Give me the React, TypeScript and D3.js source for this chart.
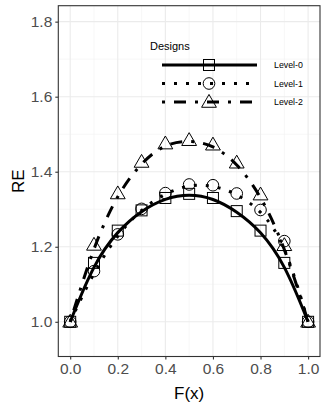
import React, { useRef, useEffect } from 'react';
import * as d3 from 'd3';

const fx = [0, 0.1, 0.2, 0.3, 0.4, 0.5, 0.6, 0.7, 0.8, 0.9, 1.0];
const level0 = [1.0, 1.157, 1.243, 1.297, 1.33, 1.341, 1.33, 1.295, 1.243, 1.157, 1.0];
const level1 = [1.0, 1.135, 1.233, 1.301, 1.343, 1.366, 1.364, 1.342, 1.298, 1.215, 1.0];
const level2 = [1.0, 1.205, 1.342, 1.426, 1.475, 1.484, 1.472, 1.424, 1.339, 1.204, 1.0];
const seriesNames = ['Level-0', 'Level-1', 'Level-2'];
const xTicks = [0, 0.2, 0.4, 0.6, 0.8, 1.0];
const yTicks = [1.0, 1.2, 1.4, 1.6, 1.8];

const W = 327;
const H = 409;
const font = 'Liberation Sans, Arial, sans-serif';

const App = () => {
  const svgRef = useRef<SVGSVGElement>(null);

  useEffect(() => {
    const svg = d3.select(svgRef.current);
    svg.selectAll('*').remove();

    const left = 58.3, right = 320, top = 5.7, bottom = 356.5;
    const x = d3.scaleLinear().domain([-0.05, 1.05]).range([left, right]);
    const y = d3.scaleLinear().domain([0.9075, 1.8425]).range([bottom, top]);

    svg.append('rect').attr('width', W).attr('height', H).attr('fill', 'white');

    // grid
    const g = svg.append('g');
    const minorX = d3.range(0.1, 1.0, 0.2);
    const minorY = [0.9, 1.1, 1.3, 1.5, 1.7];
    minorX.forEach((v) => {
      g.append('line').attr('x1', x(v)).attr('x2', x(v)).attr('y1', top).attr('y2', bottom)
        .attr('stroke', '#f2f2f2').attr('stroke-width', 0.6);
    });
    minorY.forEach((v) => {
      if (y(v) > bottom) return;
      g.append('line').attr('y1', y(v)).attr('y2', y(v)).attr('x1', left).attr('x2', right)
        .attr('stroke', '#f2f2f2').attr('stroke-width', 0.6);
    });
    xTicks.forEach((v) => {
      g.append('line').attr('x1', x(v)).attr('x2', x(v)).attr('y1', top).attr('y2', bottom)
        .attr('stroke', '#ebebeb').attr('stroke-width', 1.1);
    });
    yTicks.forEach((v) => {
      g.append('line').attr('y1', y(v)).attr('y2', y(v)).attr('x1', left).attr('x2', right)
        .attr('stroke', '#ebebeb').attr('stroke-width', 1.1);
    });

    // axes
    const xAxis = svg.append('g').attr('transform', `translate(0,${bottom})`)
      .call(d3.axisBottom(x).tickValues(xTicks).tickFormat(d3.format('.1f')).tickSize(3).tickPadding(3.5));
    const yAxis = svg.append('g').attr('transform', `translate(${left},0)`)
      .call(d3.axisLeft(y).tickValues(yTicks).tickFormat(d3.format('.1f')).tickSize(3).tickPadding(3));
    [xAxis, yAxis].forEach((a) => {
      a.select('.domain').remove();
      a.selectAll('line').attr('stroke', '#333333').attr('stroke-width', 1.1);
      a.selectAll('text').attr('fill', '#4d4d4d').attr('font-size', 15.5).attr('font-family', font);
    });

    // panel border
    svg.append('rect').attr('x', left).attr('y', top).attr('width', right - left).attr('height', bottom - top)
      .attr('fill', 'none').attr('stroke', '#333333').attr('stroke-width', 1.1);

    const dashes = [null, '3 9', '3 9 12 9'];
    const allSeries = [level0, level1, level2];
    const line = d3.line<number>().x((d, i) => x(fx[i])).y((d) => y(d)).curve(d3.curveBasis);

    const drawShape = (sel: any, k: number, cx: number, cy: number) => {
      if (k === 0) {
        sel.append('rect').attr('x', cx - 5.5).attr('y', cy - 5.5).attr('width', 11).attr('height', 11)
          .attr('fill', 'none').attr('stroke', 'black').attr('stroke-width', 1);
      } else if (k === 1) {
        sel.append('circle').attr('cx', cx).attr('cy', cy).attr('r', 5.8)
          .attr('fill', 'none').attr('stroke', 'black').attr('stroke-width', 1);
      } else {
        const tri = d3.symbol().type(d3.symbolTriangle).size(95);
        sel.append('path').attr('d', tri()).attr('transform', `translate(${cx},${cy + 1})`)
          .attr('fill', 'none').attr('stroke', 'black').attr('stroke-width', 1);
      }
    };

    allSeries.forEach((vals, k) => {
      svg.append('path').datum(vals).attr('d', line).attr('fill', 'none').attr('stroke', 'black')
        .attr('stroke-width', 3).attr('stroke-dasharray', dashes[k]).attr('stroke-linecap', 'butt');
    });
    allSeries.forEach((vals, k) => {
      const pg = svg.append('g');
      vals.forEach((v, i) => drawShape(pg, k, x(fx[i]), y(v)));
    });

    // legend
    const lg = svg.append('g');
    lg.append('text').attr('x', 150).attr('y', 50).text('Designs').attr('font-size', 11)
      .attr('font-family', font).attr('fill', 'black');
    seriesNames.forEach((name, k) => {
      const ly = 65 + k * 18.5;
      lg.append('line').attr('x1', 162).attr('x2', 257).attr('y1', ly).attr('y2', ly)
        .attr('stroke', 'black').attr('stroke-width', 3).attr('stroke-dasharray', dashes[k]);
      drawShape(lg, k, 209, ly);
      lg.append('text').attr('x', 274).attr('y', ly + 3).text(name).attr('font-size', 8.8)
        .attr('font-family', font).attr('fill', 'black');
    });

    // titles
    svg.append('text').attr('x', (left + right) / 2).attr('y', 399).attr('text-anchor', 'middle')
      .attr('font-size', 17).attr('font-family', font).attr('fill', 'black').text('F(x)');
    svg.append('text').attr('transform', `translate(24,${(top + bottom) / 2}) rotate(-90)`)
      .attr('text-anchor', 'middle').attr('font-size', 17).attr('font-family', font)
      .attr('fill', 'black').text('RE');
  }, []);

  return (
    <div>
      <svg ref={svgRef} width={W} height={H} style={{ position: 'absolute', left: 0, top: 0 }}></svg>
    </div>
  );
};

export default App;
